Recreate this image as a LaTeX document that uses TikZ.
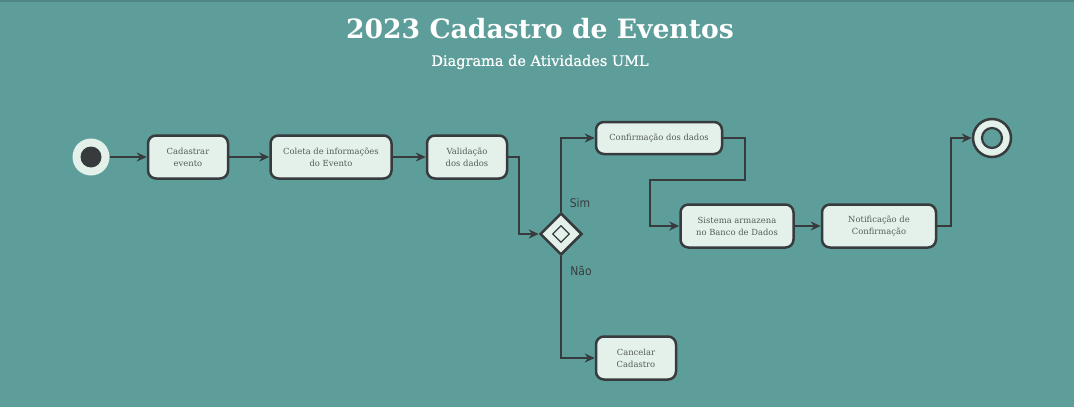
\documentclass[tikz,border=0pt]{standalone}
\usepackage{fontspec}
\setmainfont{DejaVu Serif}
\newfontfamily\condfont{DejaVu Sans Condensed}
\newfontfamily\subfont[FakeBold=0.6]{DejaVu Serif}
\usetikzlibrary{arrows.meta,shapes.geometric}
\definecolor{bgteal}{HTML}{5E9E9A}
\definecolor{boxfill}{HTML}{E4F1EA}
\definecolor{ink}{HTML}{383B3D}
\definecolor{txtgray}{HTML}{555A5A}
\tikzset{
  act/.style={draw=ink,line width=2.5pt,fill=boxfill,rounded corners=8pt,minimum height=43pt,
    align=center,inner sep=0pt,text=txtgray,font=\fontsize{8.4}{12}\selectfont},
  flow/.style={draw=ink,line width=2.2pt,-{Stealth[length=10pt,width=9pt]}},
  guard/.style={text=ink,font=\condfont\fontsize{12}{14}\selectfont}
}
\begin{document}
\begin{tikzpicture}[x=1pt,y=-1pt]
\fill[bgteal] (0,0) rectangle (1074,407);
\fill[bgteal!85!black] (0,0) rectangle (1074,2);
\useasboundingbox (0,0) rectangle (1074,407);
\node[text=white,font=\bfseries\fontsize{26.6}{30}\selectfont] (title) at (540,29) {2023 Cadastro de Eventos};
\node[text=white,font=\subfont\fontsize{14.5}{17}\selectfont] (subtitle) at (540,62) {Diagrama de Atividades UML};
% start and end
\node[circle,fill=boxfill,minimum size=37pt,inner sep=0pt] (start) at (91,157) {};
\node[circle,fill=ink,minimum size=21pt,inner sep=0pt] at (start) {};
\node[circle,draw=ink,line width=2.5pt,fill=boxfill,minimum size=38pt,inner sep=0pt] (stop) at (992,138) {};
\node[circle,draw=ink,line width=2.2pt,fill=bgteal,minimum size=20pt,inner sep=0pt] at (stop) {};
% actions
\node[act,minimum width=80pt] (cadastrar) at (188,157) {Cadastrar\\evento};
\node[act,minimum width=121pt] (coleta) at (331,157) {Coleta de informações\\do Evento};
\node[act,minimum width=80pt] (validacao) at (467,157) {Validação\\dos dados};
\node[diamond,draw=ink,line width=2.5pt,fill=boxfill,minimum width=42pt,minimum height=42pt,inner sep=0pt] (decisao) at (561,234) {};
\node[diamond,draw=ink,line width=1.3pt,minimum width=17pt,minimum height=17pt,inner sep=0pt] at (decisao) {};
\node[act,minimum width=126pt,minimum height=32pt] (confirmacao) at (659,138) {Confirmação dos dados};
\node[act,minimum width=113pt] (sistema) at (737,226) {Sistema armazena\\no Banco de Dados};
\node[act,minimum width=114pt] (notificacao) at (879,226) {Notificação de\\Confirmação};
\node[act,minimum width=80pt] (cancelar) at (636,358) {Cancelar\\Cadastro};
% guards
\node[guard] (sim) at (580,203) {Sim};
\node[guard] (nao) at (581,271) {Não};
% flows
\draw[flow] (start) -- (cadastrar);
\draw[flow] (cadastrar) -- (coleta);
\draw[flow] (coleta) -- (validacao);
\draw[flow] (validacao.east) -- ++(11,0) |- (decisao.west);
\draw[flow] (decisao.north) |- (confirmacao.west);
\draw[flow] (decisao.south) |- (cancelar.west);
\draw[flow] (confirmacao.east) -- ++(22,0) -- ++(0,42) -- (650,180) |- (sistema.west);
\draw[flow] (sistema) -- (notificacao);
\draw[flow] (notificacao.east) -- ++(14,0) |- (stop.west);
\end{tikzpicture}
\end{document}
